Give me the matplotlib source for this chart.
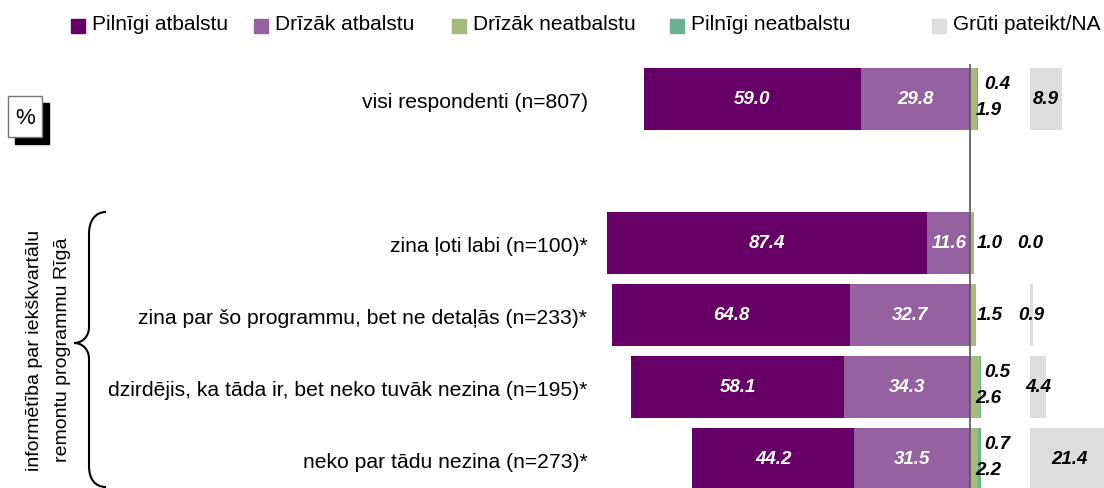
import numpy as np
import matplotlib.pyplot as plt
from matplotlib.patches import Rectangle, PathPatch
from matplotlib.path import Path

plt.rcParams['font.family'] = ['Liberation Sans', 'DejaVu Sans']

categories = ["visi respondenti (n=807)",
              "zina ļoti labi (n=100)*",
              "zina par šo programmu, bet ne detaļās (n=233)*",
              "dzirdējis, ka tāda ir, bet neko tuvāk nezina (n=195)*",
              "neko par tādu nezina (n=273)*"]
ypos = np.array([0, 2, 3, 4, 5])

pilnigi_atb = [59.0, 87.4, 64.8, 58.1, 44.2]
drizak_atb = [29.8, 11.6, 32.7, 34.3, 31.5]
drizak_neatb = [1.9, 1.0, 1.5, 2.6, 2.2]
pilnigi_neatb = [0.4, 0.0, 0.0, 0.5, 0.7]
gruti = [8.9, 0.0, 0.9, 4.4, 21.4]

series_names = ["Pilnīgi atbalstu", "Drīzāk atbalstu", "Drīzāk neatbalstu",
                "Pilnīgi neatbalstu", "Grūti pateikt/NA"]
colors = ["#660066", "#9561A1", "#A3BB7B", "#6BB08F", "#DDDDDD"]

W, H = 1104, 489
fig = plt.figure(figsize=(W / 100, H / 100), dpi=100)


def fx(px):
    return px / W


def fy(py):
    return 1 - py / H


px_per_unit = 3.67
zero_px = 970
ax = fig.add_axes([fx(600), 0, fx(W - 600), 1])
ax.set_xlim(-(zero_px - 600) / px_per_unit, (W - zero_px) / px_per_unit)
ax.set_ylim((H - 100) / 72, -100 / 72)
for s in ax.spines.values():
    s.set_visible(False)
ax.set_xticks([])
ax.set_yticks(ypos, categories, fontsize=15.2)
ax.tick_params(axis='y', length=0, pad=9)

pa = np.array(pilnigi_atb)
da = np.array(drizak_atb)
dn = np.array(drizak_neatb)
pn = np.array(pilnigi_neatb)
gr = np.array(gruti)
gruti_start = 16.3
h = 0.85

ax.barh(ypos, pa, left=-(pa + da), height=h, color=colors[0])
ax.barh(ypos, da, left=-da, height=h, color=colors[1])
ax.barh(ypos, dn, left=0, height=h, color=colors[2])
ax.barh(ypos, pn, left=dn, height=h, color=colors[3])
ax.barh(ypos, gr, left=gruti_start, height=h, color=colors[4])

ax.vlines(0, -0.49, 5.6, color='#555555', lw=1.2, zorder=5)

lab = dict(fontsize=13.5, fontweight='bold', fontstyle='italic', va='center')
for i, y in enumerate(ypos):
    ax.text(-(da[i] + pa[i] / 2), y, f"{pa[i]:.1f}", color='white', ha='center', **lab)
    ax.text(-da[i] / 2, y, f"{da[i]:.1f}", color='white', ha='center', **lab)
    if pn[i] > 0:
        ax.text(3.9, y - 0.22, f"{pn[i]:.1f}", color='black', ha='left', **lab)
        ax.text(1.5, y + 0.14, f"{dn[i]:.1f}", color='black', ha='left', **lab)
    else:
        ax.text(1.9, y, f"{dn[i]:.1f}", color='black', ha='left', **lab)
    ax.text(gruti_start + gr[i] / 2, y, f"{gr[i]:.1f}", color='black', ha='center', **lab)

# legend
leg_sq = [71, 254, 452, 670, 932]
for x0, name, c in zip(leg_sq, series_names, colors):
    fig.patches.append(Rectangle((fx(x0), fy(34)), fx(14), 14 / H, color=c,
                                 transform=fig.transFigure))
    fig.text(fx(x0 + 21), fy(25), name, fontsize=15, va='center', ha='left')

# % box
fig.patches.append(Rectangle((fx(15), fy(145)), fx(34), 41 / H, color='black',
                             transform=fig.transFigure))
fig.patches.append(Rectangle((fx(8), fy(138)), fx(34), 41 / H, facecolor='white',
                             edgecolor='#777777', lw=1, transform=fig.transFigure))
fig.text(fx(25), fy(118), "%", fontsize=16, ha='center', va='center')

# brace
pts = [(106, 213), (95, 213), (89, 222), (89, 235), (89, 328),
       (89, 338), (82, 344), (74, 344),
       (82, 344), (89, 350), (89, 360), (89, 467),
       (89, 480), (95, 488), (106, 488)]
codes = [Path.MOVETO] + [Path.CURVE4] * 3 + [Path.LINETO] + [Path.CURVE4] * 6 + \
        [Path.LINETO] + [Path.CURVE4] * 3
verts = [(fx(x), fy(y)) for x, y in pts]
fig.patches.append(PathPatch(Path(verts, codes), facecolor='none', edgecolor='black',
                             lw=1.5, transform=fig.transFigure))

fig.text(fx(35), fy(350), "informētība par iekškvartālu", rotation=90,
         fontsize=14, ha='center', va='center')
fig.text(fx(63), fy(350), "remontu programmu Rīgā", rotation=90,
         fontsize=14, ha='center', va='center')

fig.savefig("out.png", dpi=100)
